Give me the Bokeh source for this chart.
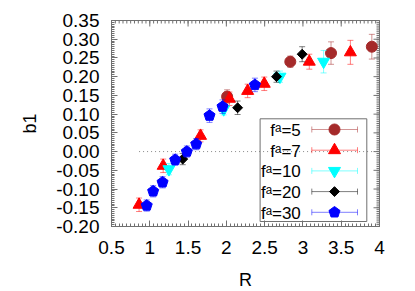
import numpy as np
from bokeh.plotting import figure
from bokeh.models import Range1d, FixedTicker
from bokeh.embed import file_html
from bokeh.resources import INLINE
from bokeh.core.properties import value

# ---------------- data ----------------
# f^a = 5 (brown circles)
r_f5 = [2.01, 2.835, 3.367, 3.90]
b_f5 = [0.147, 0.240, 0.263, 0.280]
e_f5 = [0.018, 0.015, 0.030, 0.033]
# f^a = 7 (red triangles)
r_f7 = [0.86, 1.175, 1.663, 2.04, 2.278, 2.495, 3.083, 3.62]
b_f7 = [-0.142, -0.038, 0.042, 0.141, 0.162, 0.181, 0.240, 0.265]
e_f7 = [0.018, 0.018, 0.016, 0.018, 0.018, 0.018, 0.020, 0.032]
# f^a = 10 (cyan inverted triangles)
r_f10 = [1.25, 1.965, 2.70, 3.27]
b_f10 = [-0.047, 0.113, 0.200, 0.240]
e_f10 = [0.015, 0.015, 0.015, 0.030]
# f^a = 20 (black diamonds)
r_f20 = [1.43, 2.147, 2.655, 2.99]
b_f20 = [-0.020, 0.117, 0.200, 0.260]
e_f20 = [0.015, 0.018, 0.015, 0.020]
# f^a = 30 (blue pentagons)
r_f30 = [0.96, 1.044, 1.167, 1.332, 1.484, 1.606, 1.78, 1.95, 2.373]
b_f30 = [-0.144, -0.106, -0.082, -0.022, 0.000, 0.020, 0.096, 0.120, 0.178]
e_f30 = [0.015, 0.015, 0.015, 0.015, 0.015, 0.015, 0.018, 0.018, 0.018]

zero_x = [0.86, 4.0]
zero_y = [0.0, 0.0]

x_ticks = [0.5, 1.0, 1.5, 2.0, 2.5, 3.0, 3.5, 4.0]
x_tick_labels = ["0.5", "1", "1.5", "2", "2.5", "3", "3.5", "4"]
y_ticks = [-0.20, -0.15, -0.10, -0.05, 0.00, 0.05, 0.10, 0.15, 0.20, 0.25, 0.30, 0.35]
y_tick_labels = ["-0.20", "-0.15", "-0.10", "-0.05", "0.00", "0.05", "0.10",
                 "0.15", "0.20", "0.25", "0.30", "0.35"]

legend_labels = ["f\u1d43=5", "f\u1d43=7", "f\u1d43=10", "f\u1d43=20", "f\u1d43=30"]

FONT = "Liberation Sans"
GRAY = "#707070"
FW, FH = 268, 206
X0, X1 = x_ticks[0], x_ticks[-1]
Y0, Y1 = y_ticks[0], y_ticks[-1]

p = figure(frame_width=FW, frame_height=FH, output_backend="svg", toolbar_location=None,
           x_range=Range1d(X0, X1), y_range=Range1d(Y0, Y1),
           min_border_left=111, min_border_right=28, min_border_top=20, min_border_bottom=60)
p.xgrid.visible = False
p.ygrid.visible = False
p.background_fill_color = "white"
p.border_fill_color = "white"
p.outline_line_color = GRAY
p.outline_line_width = 1

x_minor = list(np.round(np.arange(X0, X1 + 1e-6, 0.05), 4))
y_minor = list(np.round(np.arange(Y0, Y1 + 1e-6, 0.005), 4))
xt = FixedTicker(ticks=x_ticks, minor_ticks=x_minor)
yt = FixedTicker(ticks=y_ticks, minor_ticks=y_minor)


def style_axis(ax, ticker, overrides):
    ax.ticker = ticker
    ax.axis_line_color = GRAY
    ax.major_tick_line_color = GRAY
    ax.minor_tick_line_color = GRAY
    ax.major_tick_in = 6
    ax.major_tick_out = 0
    ax.minor_tick_in = 3
    ax.minor_tick_out = 0
    ax.major_label_overrides = overrides
    ax.major_label_text_font = FONT
    ax.major_label_text_font_size = "19px"
    ax.major_label_text_color = "black"
    ax.axis_label_text_font = FONT
    ax.axis_label_text_font_size = "18px"
    ax.axis_label_text_font_style = "normal"
    ax.axis_label_text_color = "black"


xa = p.xaxis[0]
ya = p.yaxis[0]
style_axis(xa, xt, dict(zip(x_ticks, x_tick_labels)))
style_axis(ya, yt, dict(zip(y_ticks, y_tick_labels)))
xa.axis_label = "R"
ya.axis_label = "b1"
xa.major_label_standoff = 14
xa.axis_label_standoff = 13
ya.major_label_standoff = 12
ya.axis_label_standoff = 13

# mirrored inward ticks on top and right edges (clipped to frame)
p.scatter(x=x_minor, y=[Y1] * len(x_minor), marker="dash", angle=np.pi / 2, size=6,
          line_color=GRAY, line_width=1)
p.scatter(x=x_ticks, y=[Y1] * len(x_ticks), marker="dash", angle=np.pi / 2, size=12,
          line_color=GRAY, line_width=1)
p.scatter(x=[X1] * len(y_minor), y=y_minor, marker="dash", size=6,
          line_color=GRAY, line_width=1)
p.scatter(x=[X1] * len(y_ticks), y=y_ticks, marker="dash", size=12,
          line_color=GRAY, line_width=1)

# zero line
p.line(zero_x, zero_y, line_color="#888888", line_width=1, line_dash="1 3")

series = [
    (r_f5, b_f5, e_f5, "#a52a2a", "circle", 11),
    (r_f7, b_f7, e_f7, "#ff0000", "triangle", 12),
    (r_f10, b_f10, e_f10, "#00ffff", "inverted_triangle", 12),
    (r_f20, b_f20, e_f20, "#000000", "diamond", 7),
    (r_f30, b_f30, e_f30, "#0000ff", "pentagon", 5.8),
]


def draw_marker(pp, x, y, color, marker, size, **kw):
    if marker == "pentagon":
        pp.ngon(x=x, y=y, radius=size, radius_units="screen", n=5, angle=0,
                fill_color=color, line_color=color, **kw)
    elif marker == "diamond":
        pp.scatter(x=x, y=y, marker="square", size=size, angle=np.pi / 4,
                   fill_color=color, line_color=color, **kw)
    else:
        pp.scatter(x=x, y=y, marker=marker, size=size,
                   fill_color=color, line_color=color, **kw)


for r, b, e, color, marker, size in series:
    r = np.array(r); b = np.array(b); e = np.array(e)
    p.segment(x0=r, y0=b - e, x1=r, y1=b + e, line_color=color, line_alpha=0.5, line_width=1)
    p.scatter(x=np.concatenate([r, r]), y=np.concatenate([b - e, b + e]), marker="dash",
              size=6, line_color=color, line_alpha=0.5, line_width=1)
    draw_marker(p, r, b, color, marker, size)

# ---------------- legend (pixel ranges inside frame) ----------------
p.extra_x_ranges = {"px": Range1d(0, FW)}
p.extra_y_ranges = {"py": Range1d(0, FH)}
leg_kw = dict(x_range_name="px", y_range_name="py")
p.quad(left=[148.6], right=[255.3], bottom=[5], top=[107.7], fill_color=None,
       line_color=GRAY, line_width=1, **leg_kw)
leg_y = [97.0, 76.3, 55.6, 34.9, 14.2]
for (r, b, e, color, marker, size), ly, lab in zip(series, leg_y, legend_labels):
    p.text(x=[189.3], y=[ly - 1], text=[lab], text_align="right", text_baseline="middle",
           text_font=value(FONT), text_font_size="17px", text_color="black", **leg_kw)
    p.segment(x0=[200.3], y0=[ly], x1=[246.0], y1=[ly], line_color=color, line_alpha=0.5,
              line_width=1, **leg_kw)
    p.segment(x0=[200.3, 246.0], y0=[ly - 3, ly - 3], x1=[200.3, 246.0], y1=[ly + 3, ly + 3],
              line_color=color, line_alpha=0.5, line_width=1, **leg_kw)
    draw_marker(p, [223.0], [ly], color, marker, size, **leg_kw)

open("out.html", "w").write(file_html(p, INLINE))
